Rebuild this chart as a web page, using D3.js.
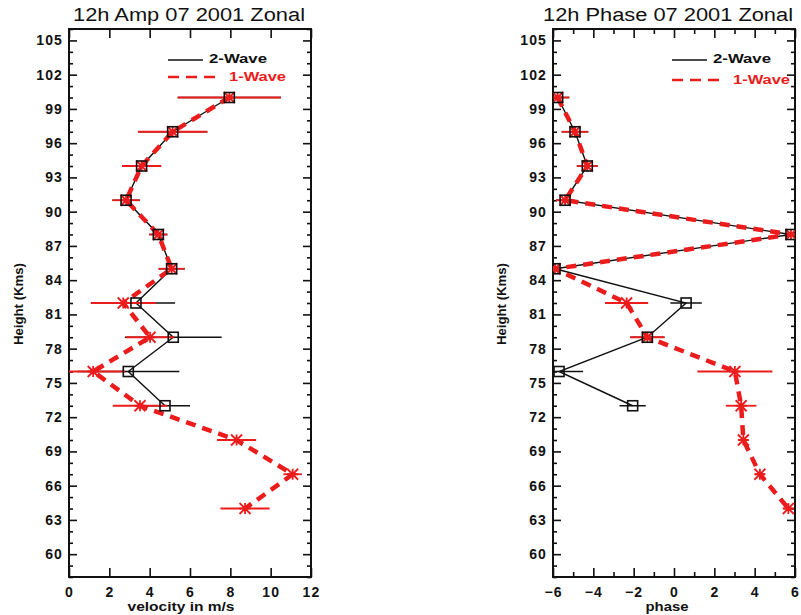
<!DOCTYPE html>
<html>
<head>
<meta charset="utf-8">
<script src="https://cdn.jsdelivr.net/npm/d3@7"></script>
<style>
  html, body { margin: 0; padding: 0; background: #fff; }
  svg { display: block; }
  text { font-family: "Liberation Sans", Arial, sans-serif; fill: #111; }
</style>
</head>
<body>
<script>
// Altitude levels (km) for each fit
const heightsTwoWave = [100, 97, 94, 91, 88, 85, 82, 79, 76, 73];
const heightsOneWave = [100, 97, 94, 91, 88, 85, 82, 79, 76, 73, 70, 67, 64];

// 12h amplitude (m/s) and its uncertainty
const ampTwoWave    = [7.95, 5.14, 3.60, 2.83, 4.43, 5.09, 3.32, 5.17, 2.94, 4.76];
const ampTwoWaveErr = [2.56, 1.72, 0.97, 0.68, 0.45, 0.65, 1.94, 2.40, 2.53, 1.24];
const ampOneWave    = [7.95, 5.14, 3.60, 2.83, 4.43, 5.09, 2.69, 4.02, 1.20, 3.52, 8.31, 11.09, 8.73];
const ampOneWaveErr = [2.56, 1.72, 0.97, 0.68, 0.45, 0.65, 1.61, 1.20, 1.58, 1.35, 0.97, 0.46, 1.22];

// 12h phase and its uncertainty
const phaseTwoWave    = [-5.77, -4.91, -4.30, -5.40, 5.80, -5.90, 0.60, -1.32, -5.70, -2.05];
const phaseTwoWaveErr = [0.58, 0.66, 0.52, 0.45, 0.30, 0.30, 0.78, 0.85, 1.19, 0.65];
const phaseOneWave    = [-5.77, -4.91, -4.30, -5.40, 5.80, -5.90, -2.35, -1.32, 3.02, 3.33, 3.44, 4.26, 5.67];
const phaseOneWaveErr = [0.58, 0.66, 0.52, 0.45, 0.30, 0.30, 1.07, 0.85, 1.86, 0.76, 0.25, 0.25, 0.25];

// Axis ticks and labels
const heightTicks = [60, 63, 66, 69, 72, 75, 78, 81, 84, 87, 90, 93, 96, 99, 102, 105];
const ampTicks = [0, 2, 4, 6, 8, 10, 12];
const phaseTicks = [-6, -4, -2, 0, 2, 4, 6];
const phaseMinorTicks = [-5, -3, -1, 1, 3, 5];
const seriesNames = ["2-Wave", "1-Wave"];

const W = 801, H = 615;
const RED = "#ec1c1c";
const svg = d3.select("body").append("svg").attr("width", W).attr("height", H);
svg.append("rect").attr("width", W).attr("height", H).attr("fill", "#fff");

function zip(hs, vs, es) {
  return hs.map((h, i) => ({ h, v: vs[i], e: es[i] }));
}

function drawPanel(cfg) {
  const x = d3.scaleLinear().domain(cfg.xDomain).range([cfg.x0, cfg.x1]);
  const y = d3.scaleLinear().domain([58, 106]).range([577, 29]);
  const g = svg.append("g");

  const clipId = "clip-" + cfg.id;
  svg.append("clipPath").attr("id", clipId)
    .append("rect").attr("x", cfg.x0).attr("y", 29)
    .attr("width", cfg.x1 - cfg.x0).attr("height", 548);

  // minor height ticks (every km) on both sides
  const minorH = d3.range(58, 107).filter(v => heightTicks.indexOf(v) < 0);
  const axes = [
    d3.axisLeft(y).tickValues(minorH).tickSize(-4).tickFormat(""),
    d3.axisRight(y).tickValues(minorH).tickSize(-4).tickFormat(""),
  ];
  g.append("g").attr("transform", `translate(${cfg.x0},0)`).call(axes[0]);
  g.append("g").attr("transform", `translate(${cfg.x1},0)`).call(axes[1]);

  // major height ticks with labels
  g.append("g").attr("class", "ylab").attr("transform", `translate(${cfg.x0},0)`)
    .call(d3.axisLeft(y).tickValues(heightTicks).tickSize(-8).tickPadding(6).tickFormat(d3.format("d")));
  g.append("g").attr("transform", `translate(${cfg.x1},0)`)
    .call(d3.axisRight(y).tickValues(heightTicks).tickSize(-8).tickFormat(""));

  // x ticks bottom (labelled) and top
  g.append("g").attr("class", "xlab").attr("transform", "translate(0,577)")
    .call(d3.axisBottom(x).tickValues(cfg.xTicks).tickSize(-9).tickPadding(10)
      .tickFormat(d => d < 0 ? "\u2212" + Math.abs(d) : String(d)));
  g.append("g").attr("transform", "translate(0,29)")
    .call(d3.axisTop(x).tickValues(cfg.xTicks).tickSize(-9).tickFormat(""));
  if (cfg.xMinor) {
    g.append("g").attr("transform", "translate(0,577)")
      .call(d3.axisBottom(x).tickValues(cfg.xMinor).tickSize(-5).tickFormat(""));
    g.append("g").attr("transform", "translate(0,29)")
      .call(d3.axisTop(x).tickValues(cfg.xMinor).tickSize(-5).tickFormat(""));
  }
  g.selectAll(".domain").remove();
  g.selectAll(".tick line").attr("stroke", "#111").attr("stroke-width", 1.6);
  g.selectAll(".ylab text, .xlab text")
    .attr("font-size", 14).attr("font-weight", "bold").attr("letter-spacing", 1.1)
    .attr("font-family", "Liberation Sans, Arial, sans-serif").attr("fill", "#111");

  // frame
  g.append("rect").attr("x", cfg.x0).attr("y", 29)
    .attr("width", cfg.x1 - cfg.x0).attr("height", 548)
    .attr("fill", "none").attr("stroke", "#111").attr("stroke-width", 2);

  // data layer
  const d = g.append("g").attr("clip-path", `url(#${clipId})`);
  const two = zip(heightsTwoWave, cfg.two, cfg.twoErr);
  const one = zip(heightsOneWave, cfg.one, cfg.oneErr);

  d.selectAll(".eb2").data(two).join("line")
    .attr("x1", p => x(p.v - p.e)).attr("x2", p => x(p.v + p.e))
    .attr("y1", p => y(p.h)).attr("y2", p => y(p.h))
    .attr("stroke", "#111").attr("stroke-width", 1.5);

  const line = d3.line().x(p => x(p.v)).y(p => y(p.h));
  d.append("path").datum(two).attr("d", line)
    .attr("fill", "none").attr("stroke", "#111").attr("stroke-width", 1.4);

  d.selectAll(".eb1").data(one).join("line")
    .attr("x1", p => x(p.v - p.e)).attr("x2", p => x(p.v + p.e))
    .attr("y1", p => y(p.h)).attr("y2", p => y(p.h))
    .attr("stroke", RED).attr("stroke-width", 1.8);

  d.append("path").datum(one).attr("d", line)
    .attr("fill", "none").attr("stroke", RED).attr("stroke-width", 4.5)
    .attr("stroke-dasharray", "10,7");

  const s = 5.5;
  const star = `M${-s},${-s}L${s},${s}M${-s},${s}L${s},${-s}M0,${-s}L0,${s}M${-s},0L${s},0`;
  d.selectAll(".star").data(one).join("path")
    .attr("transform", p => `translate(${x(p.v)},${y(p.h)})`)
    .attr("d", star).attr("fill", "none").attr("stroke", RED).attr("stroke-width", 1.8);

  d.selectAll(".sq").data(two).join("rect")
    .attr("x", p => x(p.v) - 5).attr("y", p => y(p.h) - 5)
    .attr("width", 10).attr("height", 10)
    .attr("fill", "none").attr("stroke", "#111").attr("stroke-width", 1.6);

  // legend
  const L = cfg.legend;
  g.append("line").attr("x1", L.x).attr("x2", L.x + 35).attr("y1", L.y1).attr("y2", L.y1)
    .attr("stroke", "#111").attr("stroke-width", 1.6);
  g.append("text").attr("x", L.x + 41).attr("y", L.y1 + 3).text(seriesNames[0])
    .attr("font-size", 13).attr("font-weight", "bold")
    .attr("textLength", 58).attr("lengthAdjust", "spacingAndGlyphs");
  g.append("line").attr("x1", L.x).attr("x2", L.x + 50).attr("y1", L.y2).attr("y2", L.y2)
    .attr("stroke", RED).attr("stroke-width", 2.6).attr("stroke-dasharray", "11,7");
  g.append("text").attr("x", L.x + 61).attr("y", L.y2 + 4).text(seriesNames[1])
    .attr("font-size", 13).attr("font-weight", "bold").style("fill", RED)
    .attr("textLength", 57).attr("lengthAdjust", "spacingAndGlyphs");

  // titles and axis labels
  g.append("text").attr("x", cfg.titleX).attr("y", 21).attr("text-anchor", "middle")
    .attr("font-size", 18).attr("textLength", cfg.titleLen).attr("lengthAdjust", "spacingAndGlyphs")
    .text(cfg.title);
  g.append("text").attr("transform", `translate(${cfg.yLabelX},304) rotate(-90)`)
    .attr("text-anchor", "middle").attr("dominant-baseline", "middle")
    .attr("font-size", 13).attr("font-weight", "bold")
    .attr("textLength", 82).attr("lengthAdjust", "spacingAndGlyphs")
    .text("Height (Kms)");
  g.append("text").attr("x", cfg.xLabelX).attr("y", 611).attr("text-anchor", "middle")
    .attr("font-size", 13).attr("font-weight", "bold")
    .attr("textLength", cfg.xLabelLen).attr("lengthAdjust", "spacingAndGlyphs")
    .text(cfg.xLabel);
}

drawPanel({
  id: "amp", x0: 69, x1: 311, xDomain: [0, 12], xTicks: ampTicks,
  two: ampTwoWave, twoErr: ampTwoWaveErr, one: ampOneWave, oneErr: ampOneWaveErr,
  legend: { x: 168, y1: 60, y2: 77 },
  title: "12h Amp 07 2001 Zonal", titleX: 189, titleLen: 232,
  yLabelX: 20, xLabel: "velocity in m/s", xLabelX: 181, xLabelLen: 107
});

drawPanel({
  id: "phase", x0: 553, x1: 795, xDomain: [-6, 6], xTicks: phaseTicks, xMinor: phaseMinorTicks,
  two: phaseTwoWave, twoErr: phaseTwoWaveErr, one: phaseOneWave, oneErr: phaseOneWaveErr,
  legend: { x: 672, y1: 60, y2: 80 },
  title: "12h Phase 07 2001 Zonal", titleX: 668, titleLen: 250,
  yLabelX: 503, xLabel: "phase", xLabelX: 667, xLabelLen: 43
});
</script>
</body>
</html>
